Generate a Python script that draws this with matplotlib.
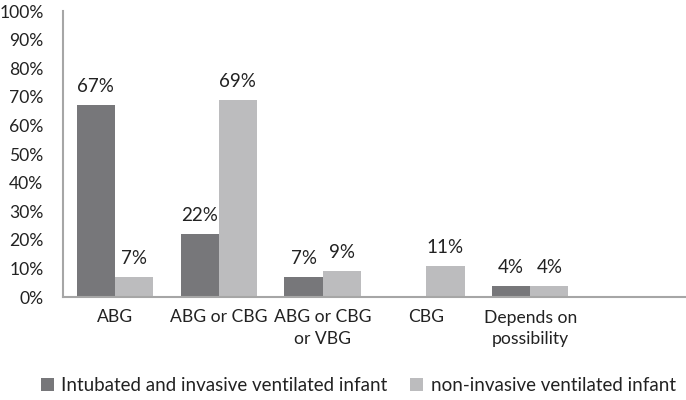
import numpy as np
import matplotlib.pyplot as plt

plt.rcParams['font.family'] = ['Lato', 'DejaVu Sans']

categories = ['ABG', 'ABG or CBG', 'ABG or CBG\nor VBG', 'CBG', 'Depends on\npossibility', '']
intubated = [67, 22, 7, 0, 4, None]
non_invasive = [7, 69, 9, 11, 4, None]
series_names = ['Intubated and invasive ventilated infant', 'non-invasive ventilated infant']
yticks = list(range(0, 101, 10))

dark = '#77777a'
light = '#bcbcbe'
spine_col = '#a6a6a6'
text_col = '#222222'
fs = 13.5
fs_tick = 12.6

fig = plt.figure(figsize=(6.86, 4.0), dpi=100)
ax = fig.add_axes([0.0918, 0.2575, 0.9082, 0.7150])

x = np.arange(len(categories))
w = 0.367

for vals, off, col, name in [(intubated, -w / 2, dark, series_names[0]),
                             (non_invasive, w / 2, light, series_names[1])]:
    xs = [xi + off for xi, v in zip(x, vals) if v is not None]
    vs = [v for v in vals if v is not None]
    ax.bar(xs, vs, width=w, color=col, label=name)
    for xi, v in zip(xs, vs):
        if v > 0:
            ax.text(xi, v + 3.5, f'{v}%', ha='center', va='bottom',
                    fontsize=fs, color=text_col)

ax.set_xlim(-0.5, len(categories) - 0.5)
ax.set_ylim(0, 100)
ax.set_yticks(yticks)
ax.set_yticklabels([f'{t}%' for t in yticks], fontsize=fs_tick, color=text_col)
ax.set_xticks(x)
ax.set_xticklabels(categories, fontsize=fs_tick, color=text_col, linespacing=1.45)
ax.tick_params(axis='both', length=0)
ax.tick_params(axis='y', pad=14)
ax.tick_params(axis='x', pad=9)

for s in ['top', 'right']:
    ax.spines[s].set_visible(False)
for s in ['left', 'bottom']:
    ax.spines[s].set_color(spine_col)
    ax.spines[s].set_linewidth(1.5)

fig.legend(loc='lower center', bbox_to_anchor=(0.522, -0.028), ncol=2, frameon=False,
           fontsize=fs, handlelength=0.7, handleheight=0.7, handletextpad=0.4,
           columnspacing=1.2, labelcolor=text_col)

fig.savefig('out.png', dpi=100)
